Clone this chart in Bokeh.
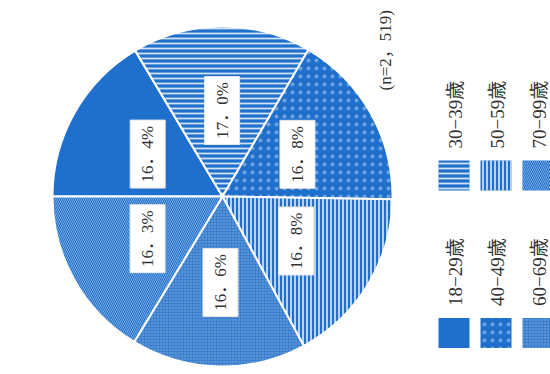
import numpy as np
from bokeh.plotting import figure
from bokeh.models import Range1d
from bokeh.core.properties import value
from bokeh.embed import file_html
from bokeh.resources import INLINE

# ---- data ----
categories = ["18−29歳", "30−39歳", "40−49歳", "50−59歳", "60−69歳", "70−99歳"]
shares = [16.4, 17.0, 16.8, 16.8, 16.6, 16.3]
sample_note = "(n=2，519)"

# ---- styles ----
BLUE = "#1e70cc"
patterns = [" ", "horizontal_line", "dot", "vertical_line", "dot", "left_diagonal_line"]
pat_scale = [4, 5, 8, 4, 3, 4]
pat_weight = [1, 1.8, 0.1, 1.6, 0.2, 0.8]
pat_alpha = [0, 0.8, 0.35, 0.85, 0.4, 0.5]
base_fill = [BLUE, BLUE, BLUE, BLUE, "#3a80cf", BLUE]

SERIF = value("Liberation Serif, Noto Sans CJK JP")

W, H = 550, 374
p = figure(width=W, height=H, x_range=Range1d(0, W), y_range=Range1d(0, H),
           output_backend="svg", toolbar_location=None, min_border=0)
p.axis.visible = False
p.grid.visible = False
p.outline_line_color = None
p.background_fill_color = "white"

# pie geometry (data units equal screen px; y measured upward)
cx, cy, R = 222, 178, 170
vals = np.array(shares, dtype=float)
frac = vals / vals.sum()
cum = np.concatenate([[0], np.cumsum(frac)])
starts = np.pi - 2 * np.pi * cum[1:]
ends = np.pi - 2 * np.pi * cum[:-1]
mids = (starts + ends) / 2

for i in range(len(categories)):
    p.wedge(x=cx, y=cy, radius=R, start_angle=starts[i], end_angle=ends[i],
            fill_color=base_fill[i], line_color="white", line_width=2,
            hatch_pattern=patterns[i], hatch_scale=pat_scale[i],
            hatch_weight=pat_weight[i], hatch_color="white",
            hatch_alpha=pat_alpha[i])

# labels
r_lab = 86
lx = cx + r_lab * np.cos(mids)
ly = cy + r_lab * np.sin(mids)
labels = [f"{v:.1f}%".replace(".", "．") for v in shares]
p.rect(x=lx, y=ly, width=35, height=68, fill_color="white", line_color="#e6e6e6",
       line_width=1)
p.text(x=lx, y=ly, text=labels, angle=np.pi / 2, text_align="center",
       text_baseline="middle", text_font=SERIF, text_font_size="17px",
       text_color="#333333")

# note
p.text(x=[385], y=[284], text=[sample_note], angle=np.pi / 2, text_align="left",
       text_baseline="middle", text_font=SERIF, text_font_size="17px",
       text_color="#333333")

# legend
col_x = [453.5, 495.5, 537.5]
row_y = [41.5, 199]
sw_top_gap = 15 + 12
for i, cat in enumerate(categories):
    x = col_x[i // 2]
    y = row_y[i % 2]
    p.rect(x=x, y=y, width=31, height=30, fill_color=base_fill[i], line_color=None,
           hatch_pattern=patterns[i], hatch_scale=pat_scale[i],
           hatch_weight=pat_weight[i], hatch_color="white", hatch_alpha=pat_alpha[i])
    p.text(x=[x + 1.5], y=[y + sw_top_gap], text=[cat], angle=np.pi / 2,
           text_align="left", text_baseline="middle", text_font=SERIF,
           text_font_size="19px", text_color="#333333")

open("out.html", "w").write(file_html(p, INLINE))
